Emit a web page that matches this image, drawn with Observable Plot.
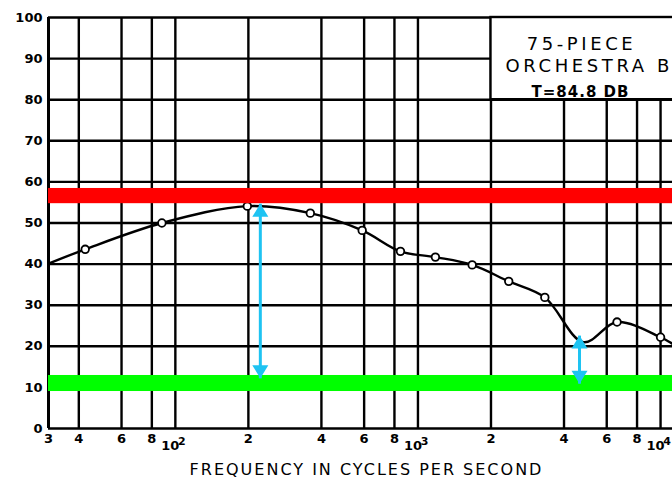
<!DOCTYPE html>
<html><head><meta charset="utf-8">
<script src="https://cdn.jsdelivr.net/npm/d3@7"></script>
<script src="https://cdn.jsdelivr.net/npm/@observablehq/plot@0.6"></script>
<style>
html,body{margin:0;padding:0;background:#fff;}
#chart svg{display:block;}
</style></head><body><div id="chart"></div>
<script>
// ---- data ----
const gridFreq = [30, 40, 60, 80, 100, 200, 400, 600, 800, 1000, 2000, 4000, 6000, 8000, 10000];
const minorTickFreq = [30, 40, 60, 80, 200, 400, 600, 800, 2000, 4000, 6000, 8000];
const minorTickLabel = ["3", "4", "6", "8", "2", "4", "6", "8", "2", "4", "6", "8"];
const decadeTickFreq = [100, 1000, 10000];
const decadeTickBase = ["10", "10", "10"];
const decadeTickExp = ["2", "3", "4"];
const levelTicks = [0, 10, 20, 30, 40, 50, 60, 70, 80, 90, 100];

const curveFreq = [30, 42.5, 88, 198, 360, 589, 847, 1180, 1673, 2367, 3334, 4810, 6616, 10000, 11200];
const curveDb   = [40.1, 43.6, 50, 54.1, 52.4, 48.2, 43.1, 41.7, 39.8, 35.8, 31.9, 21.0, 25.9, 22.2, 20.6];
const pointFreq = [42.5, 88, 198, 360, 589, 847, 1180, 1673, 2367, 3334, 6616, 10000];
const pointDb   = [43.6, 50, 54.1, 52.4, 48.2, 43.1, 41.7, 39.8, 35.8, 31.9, 25.9, 22.2];

const bandNames = ["red", "green"];
const bandLow  = [54.7, 9.0];
const bandHigh = [58.4, 12.9];

const arrowFreq   = [224, 4634];
const arrowTop    = [54.7, 22.6];
const arrowBottom = [12.2, 10.9];

const boxFreqFrom = 2000, boxDbFrom = 80, boxDbTo = 100;
const boxLines = ["75-PIECE", "ORCHESTRA B", "T=84.8 DB"];
const axisTitle = "FREQUENCY IN CYCLES PER SECOND";

// ---- build tables ----
const curve = curveFreq.map((f, i) => ({f, db: curveDb[i]}));
const points = pointFreq.map((f, i) => ({f, db: pointDb[i]}));
const bands = bandNames.map((c, i) => ({c, lo: bandLow[i], hi: bandHigh[i]}));
const arrows = arrowFreq.map((f, i) => ({f, top: arrowTop[i], bottom: arrowBottom[i]}));
const minorTicks = minorTickFreq.map((f, i) => ({f, t: minorTickLabel[i]}));
const decadeTicks = decadeTickFreq.map((f, i) => ({f, b: decadeTickBase[i], e: decadeTickExp[i]}));

const ARROW = "#1ec3f2";
const upHead = {draw(ctx) { ctx.moveTo(0, 0); ctx.lineTo(-8, 13); ctx.lineTo(8, 13); ctx.closePath(); }};
const downHead = {draw(ctx) { ctx.moveTo(0, 0); ctx.lineTo(-8, -13); ctx.lineTo(8, -13); ctx.closePath(); }};

const FONT = "DejaVu Sans";

const chart = Plot.plot({
  width: 672,
  height: 485,
  marginLeft: 48,
  marginRight: 0,
  marginTop: 17,
  marginBottom: 57,
  style: {background: "white", fontFamily: FONT},
  x: {type: "log", domain: [30, 11200], axis: null},
  y: {domain: [0, 100], axis: null},
  marks: [
    Plot.ruleY(levelTicks, {stroke: "black", strokeWidth: 2.4}),
    Plot.ruleX(gridFreq, {stroke: "black", strokeWidth: d => d === 30 ? 3 : 2.4}),
    Plot.rect([0], {x1: () => boxFreqFrom, x2: () => 1e6, y1: () => boxDbFrom, y2: () => boxDbTo, fill: "white", stroke: "black", strokeWidth: 2.4}),
    Plot.line(curve, {x: "f", y: "db", curve: "catmull-rom", stroke: "black", strokeWidth: 2.4}),
    Plot.dot(points, {x: "f", y: "db", r: 3.8, fill: "white", stroke: "black", strokeWidth: 1.8}),
    Plot.rect(bands, {y1: "lo", y2: "hi", fill: d => d.c === "red" ? "#ff0000" : "#00ff00"}),
    Plot.link(arrows, {x1: "f", x2: "f", y1: "bottom", y2: "top", stroke: ARROW, strokeWidth: 3}),
    Plot.dot(arrows, {x: "f", y: "top", symbol: upHead, fill: ARROW, stroke: "none"}),
    Plot.dot(arrows, {x: "f", y: "bottom", symbol: downHead, fill: ARROW, stroke: "none"}),
    // y tick labels
    Plot.text(levelTicks, {y: d => d, text: d => String(d), frameAnchor: "left", textAnchor: "end", dx: -6, fontSize: 13, fontWeight: "bold", fill: "black"}),
    // x tick labels
    Plot.text(minorTicks, {x: "f", text: "t", frameAnchor: "bottom", dy: 14, fontSize: 13, fontWeight: "bold", fill: "black"}),
    Plot.text(decadeTicks, {x: "f", text: "b", frameAnchor: "bottom", dx: -5, dy: 21, fontSize: 13, fontWeight: "bold", fill: "black"}),
    Plot.text(decadeTicks, {x: "f", text: "e", frameAnchor: "bottom", dx: 6.5, dy: 16, fontSize: 11, fontWeight: "bold", fill: "black"}),
    // box text
    Plot.text([boxLines[0]], {text: d => d, frameAnchor: "top-right", dx: -91, dy: 19.5, textAnchor: "middle", fontSize: 18, fill: "black"}),
    Plot.text([boxLines[1]], {text: d => d, frameAnchor: "top-right", dx: -167, dy: 41.5, textAnchor: "start", fontSize: 18, fill: "black"}),
    Plot.text([boxLines[2]], {text: d => d, frameAnchor: "top-right", dx: -92, dy: 68.5, textAnchor: "middle", fontSize: 15, fontWeight: "bold", fill: "black"}),
    // axis title
    Plot.text([axisTitle], {text: d => d, frameAnchor: "bottom", dx: 6, dy: 46, textAnchor: "middle", fontSize: 16, fill: "black"})
  ]
});
document.getElementById("chart").appendChild(chart);
// letter spacing on lettering
const sel = d3.select(chart).selectAll("text");
sel.filter(function() { const t = this.textContent; return t === boxLines[0] || t === boxLines[1]; }).style("letter-spacing", "3.6px");
sel.filter(function() { return this.textContent === boxLines[2]; }).style("letter-spacing", "1px");
sel.filter(function() { return this.textContent === axisTitle; }).style("letter-spacing", "2px");
</script></body></html>
